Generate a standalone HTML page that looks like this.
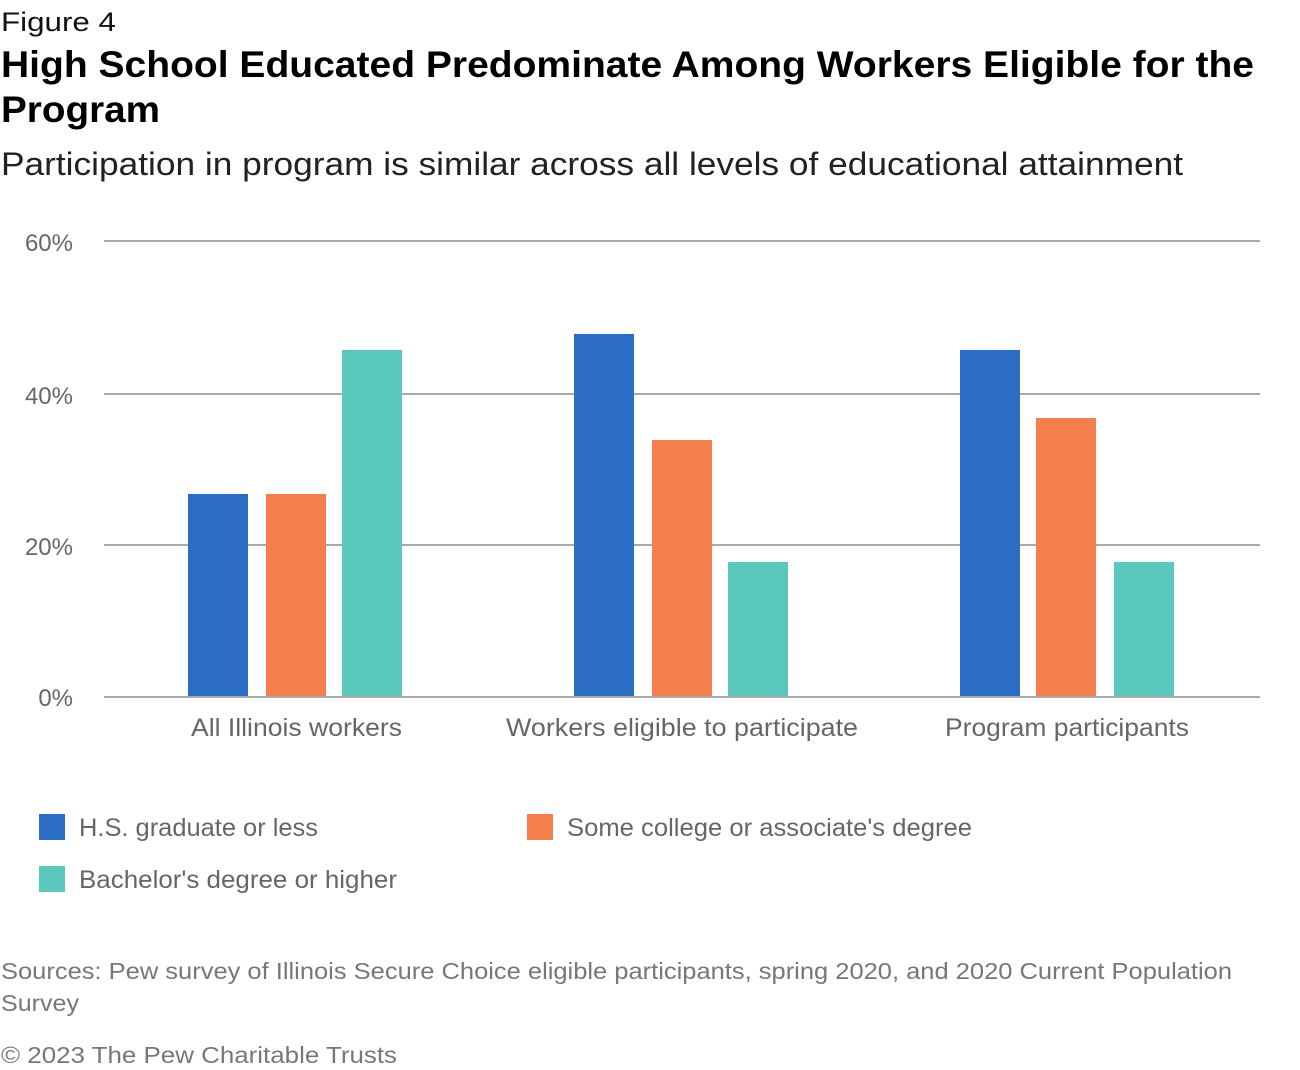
<!DOCTYPE html>
<html><head><meta charset="utf-8"><style>
html,body{margin:0;padding:0;background:#fff;}
svg{display:block;font-family:"Liberation Sans",sans-serif;}
</style></head><body>
<svg width="1300" height="1070" viewBox="0 0 1300 1070" xmlns="http://www.w3.org/2000/svg">
<text x="1" y="31" font-size="27" fill="#111" textLength="115" lengthAdjust="spacingAndGlyphs">Figure 4</text>
<text x="1" y="77" font-size="37" font-weight="bold" fill="#000" textLength="1253" lengthAdjust="spacingAndGlyphs">High School Educated Predominate Among Workers Eligible for the</text>
<text x="1" y="122" font-size="37" font-weight="bold" fill="#000" textLength="159" lengthAdjust="spacingAndGlyphs">Program</text>
<text x="1" y="175" font-size="32" fill="#222" textLength="1182" lengthAdjust="spacingAndGlyphs">Participation in program is similar across all levels of educational attainment</text>
<g stroke="#aaa" stroke-width="2">
<line x1="104" y1="241" x2="1260" y2="241"/>
<line x1="104" y1="394" x2="1260" y2="394"/>
<line x1="104" y1="545" x2="1260" y2="545"/>
</g>
<g font-size="24" fill="#666" text-anchor="end">
<text x="73" y="251">60%</text>
<text x="73" y="404">40%</text>
<text x="73" y="555">20%</text>
<text x="73" y="706">0%</text>
</g>
<g>
<rect x="188" y="494" width="60" height="203" fill="#2b6cc4"/>
<rect x="266" y="494" width="60" height="203" fill="#f47e4c"/>
<rect x="342" y="350" width="60" height="347" fill="#5bc8bd"/>
<rect x="574" y="334" width="60" height="363" fill="#2b6cc4"/>
<rect x="652" y="440" width="60" height="257" fill="#f47e4c"/>
<rect x="728" y="562" width="60" height="135" fill="#5bc8bd"/>
<rect x="960" y="350" width="60" height="347" fill="#2b6cc4"/>
<rect x="1036" y="418" width="60" height="279" fill="#f47e4c"/>
<rect x="1114" y="562" width="60" height="135" fill="#5bc8bd"/>
</g>
<line x1="104" y1="697" x2="1260" y2="697" stroke="#aaa" stroke-width="2"/>
<g font-size="25" fill="#666">
<text x="191" y="736" textLength="211" lengthAdjust="spacingAndGlyphs">All Illinois workers</text>
<text x="506" y="736" textLength="352" lengthAdjust="spacingAndGlyphs">Workers eligible to participate</text>
<text x="945" y="736" textLength="244" lengthAdjust="spacingAndGlyphs">Program participants</text>
</g>
<rect x="39" y="814" width="26" height="26" fill="#2b6cc4"/>
<rect x="527" y="814" width="26" height="26" fill="#f47e4c"/>
<rect x="39" y="866" width="26" height="26" fill="#5bc8bd"/>
<g font-size="25" fill="#666">
<text x="79" y="836" textLength="239" lengthAdjust="spacingAndGlyphs">H.S. graduate or less</text>
<text x="567" y="836" textLength="405" lengthAdjust="spacingAndGlyphs">Some college or associate's degree</text>
<text x="79" y="888" textLength="318" lengthAdjust="spacingAndGlyphs">Bachelor's degree or higher</text>
</g>
<g font-size="23" fill="#777">
<text x="1" y="979" textLength="1231" lengthAdjust="spacingAndGlyphs">Sources: Pew survey of Illinois Secure Choice eligible participants, spring 2020, and 2020 Current Population</text>
<text x="1" y="1011" textLength="78" lengthAdjust="spacingAndGlyphs">Survey</text>
<text x="1" y="1063" textLength="396" lengthAdjust="spacingAndGlyphs">© 2023 The Pew Charitable Trusts</text>
</g>
</svg>
</body></html>
